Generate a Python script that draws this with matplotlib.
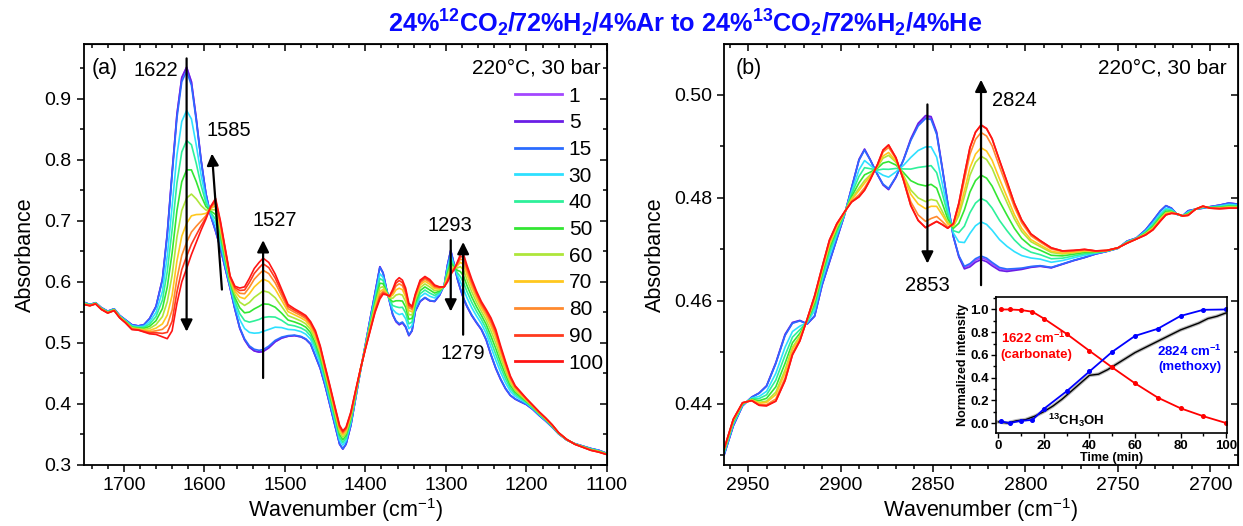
import numpy as np
import matplotlib
matplotlib.use("Agg")
import matplotlib.pyplot as plt
from matplotlib.ticker import MultipleLocator

plt.rcParams['font.family'] = ['Liberation Sans', 'DejaVu Sans']
plt.rcParams['mathtext.fontset'] = 'custom'
plt.rcParams['mathtext.rm'] = 'Liberation Sans'
plt.rcParams['mathtext.it'] = 'Liberation Sans:italic'
plt.rcParams['mathtext.bf'] = 'Liberation Sans:bold'

# -------------------------------
# data
times = [1, 5, 15, 30, 40, 50, 60, 70, 80, 90, 100]
colors = ['#a347ff', '#6a1ee6', '#2b6cff', '#2ee0ff', '#2ef09a', '#33e633',
          '#aee63a', '#ffc81e', '#ff8a2e', '#ff3a1e', '#ff1414']

# inset: normalized intensities vs time
t_inset = [1, 5, 10, 15, 20, 30, 40, 50, 60, 70, 80, 90, 100]
carbonate = [1.0, 1.0, 0.995, 0.98, 0.92, 0.785, 0.636, 0.49, 0.35, 0.224, 0.13, 0.06, 0.0]
methoxy = [0.015, 0.0, 0.02, 0.027, 0.125, 0.28, 0.454, 0.627, 0.767, 0.83, 0.943, 0.997, 1.0]
t_ch3oh = [0, 4, 8, 12, 16, 20, 24, 28, 32, 36, 40, 44, 48, 52, 56, 60, 64,
           68, 72, 76, 80, 84, 88, 92, 96, 100]
ch3oh = [0.01, 0.0, 0.02, 0.03, 0.06, 0.10, 0.15, 0.21, 0.28, 0.35, 0.42, 0.43,
         0.47, 0.52, 0.57, 0.62, 0.66, 0.70, 0.74, 0.78, 0.82, 0.85, 0.88, 0.92,
         0.94, 0.97]

# panel (a): first (1 min) and last (100 min) spectra
wn_a = [1750, 1742, 1735, 1728, 1720, 1712, 1705, 1698, 1690, 1682, 1675, 1668,
        1660, 1652, 1646, 1640, 1634, 1628, 1622, 1616, 1610, 1604, 1598, 1592,
        1586, 1580, 1574, 1568, 1562, 1556, 1550, 1544, 1538, 1532, 1527, 1520,
        1512, 1504, 1496, 1488, 1480, 1474, 1468, 1462, 1456, 1450, 1444, 1438,
        1432, 1428, 1424, 1418, 1412, 1406, 1400, 1394, 1388, 1382, 1378, 1374,
        1370, 1366, 1362, 1358, 1354, 1350, 1346, 1342, 1338, 1332, 1326, 1320,
        1314, 1308, 1302, 1298, 1294, 1290, 1286, 1282, 1278, 1274, 1268, 1262,
        1256, 1250, 1244, 1238, 1232, 1226, 1220, 1214, 1208, 1200, 1192, 1184,
        1176, 1168, 1160, 1150, 1140, 1130, 1120, 1110, 1100]
abs_a_first = [0.567, 0.563, 0.566, 0.558, 0.552, 0.556, 0.545, 0.538, 0.530, 0.528,
               0.530, 0.540, 0.560, 0.605, 0.680, 0.780, 0.875, 0.935, 0.952, 0.928,
               0.868, 0.800, 0.745, 0.708, 0.683, 0.655, 0.622, 0.590, 0.555, 0.524,
               0.505, 0.493, 0.487, 0.485, 0.486, 0.492, 0.502, 0.508, 0.511, 0.512,
               0.510, 0.506, 0.498, 0.478, 0.458, 0.430, 0.398, 0.366, 0.334, 0.326,
               0.334, 0.365, 0.410, 0.455, 0.497, 0.540, 0.582, 0.625, 0.615, 0.590,
               0.568, 0.546, 0.535, 0.530, 0.533, 0.526, 0.512, 0.520, 0.552, 0.568,
               0.574, 0.569, 0.568, 0.578, 0.595, 0.628, 0.652, 0.630, 0.606, 0.588,
               0.572, 0.560, 0.545, 0.533, 0.522, 0.505, 0.480, 0.458, 0.440, 0.425,
               0.414, 0.408, 0.404, 0.399, 0.391, 0.381, 0.372, 0.362, 0.351, 0.341,
               0.335, 0.331, 0.327, 0.324, 0.319]
abs_a_last = [0.563, 0.561, 0.564, 0.555, 0.549, 0.553, 0.541, 0.533, 0.522, 0.521,
              0.518, 0.515, 0.514, 0.510, 0.507, 0.520, 0.565, 0.600, 0.622, 0.645,
              0.665, 0.685, 0.703, 0.724, 0.737, 0.700, 0.655, 0.610, 0.593, 0.590,
              0.592, 0.606, 0.622, 0.632, 0.639, 0.632, 0.613, 0.588, 0.563, 0.556,
              0.550, 0.545, 0.535, 0.520, 0.495, 0.462, 0.430, 0.397, 0.365, 0.356,
              0.362, 0.387, 0.423, 0.458, 0.490, 0.520, 0.550, 0.572, 0.580, 0.579,
              0.577, 0.588, 0.602, 0.607, 0.603, 0.590, 0.565, 0.560, 0.580, 0.603,
              0.609, 0.604, 0.595, 0.592, 0.592, 0.600, 0.612, 0.620, 0.632, 0.645,
              0.645, 0.628, 0.605, 0.585, 0.568, 0.555, 0.541, 0.522, 0.495, 0.470,
              0.446, 0.430, 0.421, 0.409, 0.398, 0.387, 0.377, 0.366, 0.353, 0.342,
              0.334, 0.329, 0.324, 0.321, 0.317]

# panel (b): first (1 min) and last (100 min) spectra
wn_b = [2963, 2958, 2953, 2948, 2944, 2940, 2935, 2930, 2926, 2922, 2918, 2914,
        2910, 2906, 2902, 2898, 2894, 2890, 2887, 2884, 2880, 2877, 2874, 2870,
        2866, 2862, 2858, 2854, 2851, 2848, 2845, 2842, 2839, 2836, 2833, 2830,
        2827, 2824, 2821, 2818, 2814, 2810, 2806, 2802, 2797, 2792, 2786, 2780,
        2774, 2768, 2762, 2756, 2750, 2745, 2740, 2735, 2731, 2727, 2724, 2721,
        2718, 2715, 2712, 2708, 2704, 2700, 2695, 2690, 2685]
abs_b_first = [0.4300, 0.4357, 0.4396, 0.4413, 0.4421, 0.4435, 0.4480, 0.4535, 0.4558,
               0.4562, 0.4555, 0.4570, 0.4630, 0.4675, 0.4720, 0.4765, 0.4820, 0.4875,
               0.4895, 0.4875, 0.4845, 0.4825, 0.4816, 0.4840, 0.4874, 0.4915, 0.4945,
               0.4960, 0.4958, 0.4928, 0.4860, 0.4790, 0.4725, 0.4685, 0.4662, 0.4666,
               0.4675, 0.4680, 0.4676, 0.4668, 0.4659, 0.4657, 0.4659, 0.4661, 0.4665,
               0.4667, 0.4664, 0.4671, 0.4678, 0.4684, 0.4691, 0.4696, 0.4702, 0.4716,
               0.4722, 0.4738, 0.4756, 0.4775, 0.4785, 0.4780, 0.4768, 0.4765, 0.4775,
               0.4778, 0.4780, 0.4783, 0.4786, 0.4790, 0.4788]
abs_b_last = [0.4312, 0.4370, 0.4402, 0.4406, 0.4397, 0.4396, 0.4405, 0.4445, 0.4495,
              0.4522, 0.4565, 0.4610, 0.4665, 0.4718, 0.4750, 0.4772, 0.4792, 0.4802,
              0.4815, 0.4835, 0.4865, 0.4893, 0.4903, 0.4878, 0.4835, 0.4785, 0.4756,
              0.4742, 0.4748, 0.4754, 0.4748, 0.4741, 0.4750, 0.4790, 0.4845, 0.4898,
              0.4928, 0.4942, 0.4935, 0.4915, 0.4873, 0.4832, 0.4790, 0.4757, 0.4730,
              0.4717, 0.4703, 0.4697, 0.4698, 0.4700, 0.4697, 0.4698, 0.4703, 0.4712,
              0.4720, 0.4728, 0.4738, 0.4755, 0.4767, 0.4770, 0.4769, 0.4765, 0.4766,
              0.4778, 0.4784, 0.4780, 0.4779, 0.4780, 0.4780]

# conversion fraction of each spectrum, taken from the inset
frac_a = [1 - carbonate[t_inset.index(t)] for t in times]
frac_b = [methoxy[t_inset.index(t)] for t in times]


def mirror_ticks(ax, xmaj, xmin, ymaj, ymin):
    ax.xaxis.set_major_locator(MultipleLocator(xmaj))
    ax.xaxis.set_minor_locator(MultipleLocator(xmin))
    ax.yaxis.set_major_locator(MultipleLocator(ymaj))
    ax.yaxis.set_minor_locator(MultipleLocator(ymin))
    ax.tick_params(which='both', direction='out', top=False, right=False, width=1.1)
    ax.tick_params(which='major', length=5)
    ax.tick_params(which='minor', length=3)
    top = ax.secondary_xaxis('top')
    top.xaxis.set_major_locator(MultipleLocator(xmaj))
    top.xaxis.set_minor_locator(MultipleLocator(xmin))
    top.tick_params(which='both', direction='in', labeltop=False, width=1.1)
    top.tick_params(which='major', length=5)
    top.tick_params(which='minor', length=3)
    right = ax.secondary_yaxis('right')
    right.yaxis.set_major_locator(MultipleLocator(ymaj))
    right.yaxis.set_minor_locator(MultipleLocator(ymin))
    right.tick_params(which='both', direction='in', labelright=False, width=1.1)
    right.tick_params(which='major', length=5)
    right.tick_params(which='minor', length=3)
    for s in ax.spines.values():
        s.set_linewidth(1.3)


fig = plt.figure(figsize=(12.43, 5.26), dpi=100)
ax1 = fig.add_axes([0.0672, 0.116, 0.4211, 0.8003])
ax2 = fig.add_axes([0.5825, 0.116, 0.4135, 0.8003])

# -------------------------------
# panel (a)
a0 = np.array(abs_a_first)
a1 = np.array(abs_a_last)
for t, f, c in zip(times, frac_a, colors):
    ax1.plot(wn_a, a0 + f * (a1 - a0), color=c, lw=1.2, label=str(t))
ax1.set_xlim(1750, 1100)
ax1.set_ylim(0.3, 0.99)
mirror_ticks(ax1, 100, 20, 0.1, 0.05)
ax1.tick_params(labelsize=14)
ax1.set_xlabel('Wavenumber (cm$^{-1}$)', fontsize=15.5, labelpad=2)
ax1.set_ylabel('Absorbance', fontsize=15.5, labelpad=6)
ax1.text(0.016, 0.943, '(a)', transform=ax1.transAxes, fontsize=15.5, va='center')
ax1.text(0.987, 0.943, '220°C, 30 bar', transform=ax1.transAxes, fontsize=15,
         ha='right', va='center')
leg = ax1.legend(loc='upper right', bbox_to_anchor=(0.998, 0.904), frameon=False,
                 fontsize=15, handlelength=2.3, handletextpad=0.3,
                 labelspacing=0.37, borderaxespad=0.0, borderpad=0.1)
for ln in leg.get_lines():
    ln.set_linewidth(2)

arrow_kw = dict(arrowstyle='-|>,head_length=0.7,head_width=0.35', color='black', lw=1.6)
ax1.annotate('', xy=(1622, 0.514), xytext=(1622, 0.971), arrowprops=arrow_kw)
ax1.text(1633, 0.946, '1622', fontsize=14.5, ha='right', va='center')
ax1.annotate('', xy=(1590.8, 0.815), xytext=(1577.9, 0.583), arrowprops=arrow_kw)
ax1.text(1570, 0.848, '1585', fontsize=14.5, ha='center', va='center')
ax1.annotate('', xy=(1527, 0.673), xytext=(1527, 0.438), arrowprops=arrow_kw)
ax1.text(1513, 0.70, '1527', fontsize=14.5, ha='center', va='center')
ax1.annotate('', xy=(1294, 0.547), xytext=(1294, 0.673), arrowprops=arrow_kw)
ax1.text(1295, 0.692, '1293', fontsize=14.5, ha='center', va='center')
ax1.annotate('', xy=(1278.6, 0.670), xytext=(1278.6, 0.509), arrowprops=arrow_kw)
ax1.text(1279, 0.482, '1279', fontsize=14.5, ha='center', va='center')

# -------------------------------
# panel (b)
b0 = np.array(abs_b_first)
b1 = np.array(abs_b_last)
for t, f, c in zip(times, frac_b, colors):
    ax2.plot(wn_b, b0 + f * (b1 - b0), color=c, lw=1.2)
ax2.set_xlim(2963, 2685)
ax2.set_ylim(0.4281, 0.5099)
mirror_ticks(ax2, 50, 10, 0.02, 0.01)
ax2.tick_params(labelsize=14)
ax2.set_xlabel('Wavenumber (cm$^{-1}$)', fontsize=15.5, labelpad=2)
ax2.set_ylabel('Absorbance', fontsize=15.5, labelpad=6)
ax2.text(0.023, 0.943, '(b)', transform=ax2.transAxes, fontsize=15.5, va='center')
ax2.text(0.977, 0.943, '220°C, 30 bar', transform=ax2.transAxes, fontsize=15,
         ha='right', va='center')
ax2.annotate('', xy=(2853, 0.4667), xytext=(2853, 0.4987), arrowprops=arrow_kw)
ax2.text(2853, 0.4630, '2853', fontsize=14.5, ha='center', va='center')
ax2.annotate('', xy=(2824, 0.5035), xytext=(2824, 0.4625), arrowprops=arrow_kw)
ax2.text(2818, 0.4990, '2824', fontsize=14.5, ha='left', va='center')

# -------------------------------
# inset
axi = fig.add_axes([0.8013, 0.1774, 0.1862, 0.258])
axi.plot(t_ch3oh, ch3oh, color='#9a9a9a', lw=2.6, alpha=0.7)
axi.plot(t_ch3oh, ch3oh, color='black', lw=1.0)
axi.plot(t_inset, carbonate, color='red', lw=1.3, marker='o', ms=2.6)
axi.plot(t_inset, methoxy, color='blue', lw=1.3, marker='o', ms=2.6)
axi.set_xlim(-1, 100.6)
axi.set_ylim(-0.085, 1.11)
axi.xaxis.set_major_locator(MultipleLocator(20))
axi.xaxis.set_minor_locator(MultipleLocator(10))
axi.yaxis.set_major_locator(MultipleLocator(0.2))
axi.yaxis.set_minor_locator(MultipleLocator(0.1))
axi.tick_params(which='both', direction='out', width=1.0, labelsize=9.5, pad=1.5)
axi.tick_params(which='major', length=3.5)
axi.tick_params(which='minor', length=2)
for lab in axi.get_xticklabels() + axi.get_yticklabels():
    lab.set_fontweight('bold')
for s in axi.spines.values():
    s.set_linewidth(1.2)
axi.set_xlabel('Time (min)', fontsize=9, fontweight='bold', labelpad=0)
axi.set_ylabel('Normalized intensity', fontsize=9, fontweight='bold', labelpad=1)
axi.text(1, 0.68, '1622 cm$^{\\mathbf{-1}}$\n(carbonate)', color='red', fontsize=9.5,
         fontweight='bold', ha='left', va='center', linespacing=1.3)
axi.text(98, 0.57, '2824 cm$^{\\mathbf{-1}}$\n(methoxy)', color='blue', fontsize=9.5,
         fontweight='bold', ha='right', va='center', linespacing=1.3)
axi.text(22, 0.02, '$^{\\mathbf{13}}$CH$_{\\mathbf{3}}$OH', color='black', fontsize=9.5,
         fontweight='bold', ha='left', va='center')

# -------------------------------
# title
fig.text(0.551, 0.955,
         '24%$^{\\mathbf{12}}$CO$_{\\mathbf{2}}$/72%H$_{\\mathbf{2}}$/4%Ar to '
         '24%$^{\\mathbf{13}}$CO$_{\\mathbf{2}}$/72%H$_{\\mathbf{2}}$/4%He',
         color='#0a0aff', fontsize=18.2, fontweight='bold', ha='center', va='center')

fig.savefig('out.png', dpi=100)
